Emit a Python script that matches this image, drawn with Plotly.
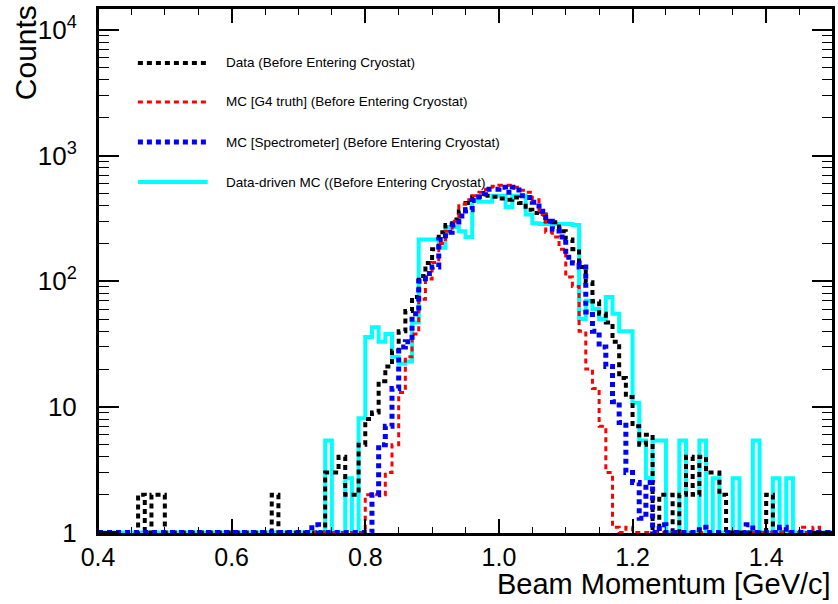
import numpy as np
import plotly.graph_objects as go

# ---------------- data (bin width 0.01 GeV/c, left edges 0.40 ... 1.49) ----------------
bin_edges = np.round(np.arange(0.40, 1.5001, 0.01), 2)

data_counts = (
    [1, 1, 1, 1, 1, 1, 2, 1, 2, 2] +                    # 0.40-0.49
    [1] * 16 + [2] + [1] * 7 +                           # 0.50-0.73
    [3, 3, 4, 2, 2, 5] +                                 # 0.74-0.79
    [8, 9, 16, 21, 28, 40, 58, 75, 110, 140] +           # 0.80-0.89
    [180, 245, 280, 310, 360, 420, 470, 470, 480, 470] + # 0.90-0.99
    [455, 445, 465, 420, 370, 350, 340, 300, 295, 250] + # 1.00-1.09
    [215, 180, 130, 98, 69, 55, 47, 33, 17, 12] +        # 1.10-1.19
    [7, 5, 6, 1, 2, 2, 1, 2, 4, 2] +                     # 1.20-1.29
    [4, 3, 3, 2, 1, 1, 1, 1, 1, 1] +                     # 1.30-1.39
    [2, 1, 1, 1, 1, 1, 1, 1, 1, 1]                       # 1.40-1.49
)

mc_g4_counts = (
    [1] * 40 +                                           # 0.40-0.79
    [2, 2, 2, 3, 5, 13, 25, 38, 72, 104] +               # 0.80-0.89
    [141, 200, 250, 300, 410, 445, 480, 510, 540, 570] + # 0.90-0.99
    [580, 580, 560, 530, 510, 445, 340, 245, 225, 180] + # 1.00-1.09
    [108, 91, 40, 20, 14, 7, 3, 1.1, 1, 1.1] +           # 1.10-1.19
    [1] * 10 +                                           # 1.20-1.29
    [1] * 10 +                                           # 1.30-1.39
    [1, 1, 1, 1, 1, 1.1, 1, 1.1, 1, 1]                   # 1.40-1.49
)

mc_spec_counts = (
    [1] * 32 + [1.15] + [1] * 8 +                        # 0.40-0.80
    [2, 5, 7, 14, 30, 33, 55, 100, 115] +                # 0.81-0.89
    [130, 215, 245, 280, 330, 370, 440, 500, 540, 540] + # 0.90-0.99
    [560, 510, 560, 480, 465, 425, 360, 300, 260, 225] + # 1.00-1.09
    [155, 140, 130, 57, 40, 30, 21, 11, 7.5, 3] +        # 1.10-1.19
    [2.5, 1.3, 2.5, 1, 1.15, 1, 1, 1, 1, 1] +            # 1.20-1.29
    [1.1, 1, 1, 1, 1, 1, 1, 1.15, 1, 1] +                # 1.30-1.39
    [1, 1, 1.1, 1, 1, 1, 1, 1, 1, 1]                     # 1.40-1.49
)

dd_mc_counts = (
    [1] * 34 +                                           # 0.40-0.73
    [5.4, 1, 1, 2.7, 1, 8.1] +                           # 0.74-0.79
    [36, 43, 33, 38, 25, 22, 23, 47, 215, 215] +         # 0.80-0.89
    [215, 185, 270, 270, 250, 225, 440, 430, 430, 480] + # 0.90-0.99
    [480, 390, 480, 480, 340, 290, 285, 285, 285, 285] + # 1.00-1.09
    [285, 280, 50, 70, 60, 50, 75, 55, 40, 40] +         # 1.10-1.19
    [10.8, 5.4, 2.7, 5.4, 5.4, 1, 1, 5.4, 1, 1] +        # 1.20-1.29
    [5.4, 1, 2.7, 1, 1, 2.7, 1, 1, 5.4, 1] +             # 1.30-1.39
    [1, 2.7, 1, 2.7, 1, 1, 1, 1, 1, 1]                   # 1.40-1.49
)

series_names = [
    "Data (Before Entering Cryostat)",
    "MC [G4 truth] (Before Entering Cryostat)",
    "MC [Spectrometer] (Before Entering Cryostat)",
    "Data-driven MC ((Before Entering Cryostat)",
]

y_tick_vals = [1, 10, 100, 1000, 10000]
y_tick_text = ["1", "10", "10<sup>2</sup>", "10<sup>3</sup>", "10<sup>4</sup>"]
x_tick_vals = [0.4, 0.6, 0.8, 1.0, 1.2, 1.4]
x_tick_text = ["0.4", "0.6", "0.8", "1.0", "1.2", "1.4"]

# ---------------- styles ----------------
styles = {
    series_names[0]: dict(color="black", width=4, dash="5px,4px"),
    series_names[1]: dict(color="#ff0000", width=3, dash="5px,4px"),
    series_names[2]: dict(color="#0000ff", width=5, dash="5px,4px"),
    series_names[3]: dict(color="#00ffff", width=4, dash="solid"),
}
all_counts = {
    series_names[0]: data_counts,
    series_names[1]: mc_g4_counts,
    series_names[2]: mc_spec_counts,
    series_names[3]: dd_mc_counts,
}

FONT = "Liberation Sans, Arial, sans-serif"
X_RANGE = [0.4, 1.5]
Y_RANGE = [-0.012, 4.175]
fig = go.Figure()

draw_order = [series_names[3], series_names[0], series_names[1], series_names[2]]
for name in draw_order:
    c = list(all_counts[name])
    fig.add_trace(go.Scatter(
        x=list(bin_edges), y=c + [c[-1]],
        mode="lines", line=dict(shape="hv", **styles[name]),
        name=name, showlegend=False, hoverinfo="skip",
    ))

W, H = 838, 604
ml, mr, mt, mb = 98, 3, 8, 70

fig.update_layout(
    width=W, height=H, autosize=False,
    margin=dict(l=ml, r=mr, t=mt, b=mb, pad=0),
    paper_bgcolor="white", plot_bgcolor="white",
    font=dict(family=FONT, color="black"),
    showlegend=False,
    xaxis=dict(
        range=X_RANGE, showgrid=False, zeroline=False,
        showline=True, linecolor="black", linewidth=2, mirror="allticks",
        ticks="inside", ticklen=15, tickwidth=1.5, tickcolor="black",
        tickvals=x_tick_vals, ticktext=x_tick_text,
        tickfont=dict(size=25, family=FONT), ticklabelstandoff=0,
        minor=dict(ticks="inside", ticklen=7, tickwidth=1.3, tickcolor="black",
                   dtick=0.05, tick0=0.4, showgrid=False),
    ),
    yaxis=dict(
        type="log", range=Y_RANGE, showgrid=False, zeroline=False,
        showline=True, linecolor="black", linewidth=2, mirror="allticks",
        ticks="inside", ticklen=21, tickwidth=1.5, tickcolor="black",
        tickvals=y_tick_vals, ticktext=y_tick_text,
        tickfont=dict(size=26, family=FONT), ticklabelstandoff=14,
        minor=dict(ticks="inside", ticklen=11, tickwidth=1.3, tickcolor="black",
                   dtick="D1", showgrid=False),
    ),
)

# frame, drawn as four edges
for (x0, y0, x1, y1) in [(0, 1, 1, 1), (1, 0, 1, 1), (0, 0, 1, 0), (0, 0, 0, 1)]:
    fig.add_shape(type="line", xref="paper", yref="paper", x0=x0, y0=y0, x1=x1, y1=y1,
                  line=dict(color="black", width=2), layer="above")

pw, ph = W - ml - mr, H - mt - mb

# axis titles (ROOT style: aligned to the axis ends)
fig.add_annotation(text="Counts", xref="paper", yref="paper",
                   x=-73 / pw, y=1 - 45 / ph,
                   xanchor="center", yanchor="middle", textangle=-90, showarrow=False,
                   font=dict(size=30, family=FONT, color="black"))
fig.add_annotation(text="Beam Momentum [GeV/c]", xref="paper", yref="paper",
                   x=1, y=-50 / ph, xanchor="right", yanchor="middle",
                   showarrow=False, font=dict(size=29, family=FONT, color="black"))

# legend drawn manually
leg_y = [63, 102, 142, 182]
for name, yy in zip(series_names, leg_y):
    st = styles[name]
    yp = 1 - (yy - mt) / ph
    fig.add_shape(type="line", xref="paper", yref="paper",
                  x0=(138 - ml) / pw, x1=(208 - ml) / pw, y0=yp, y1=yp,
                  line=dict(color=st["color"], width=st["width"], dash=st["dash"]))
    fig.add_annotation(text=name, xref="paper", yref="paper",
                       x=(224 - ml) / pw, y=yp, xanchor="left", yanchor="middle",
                       showarrow=False, font=dict(size=13.5, family=FONT, color="black"))

fig.write_html("out.html")
